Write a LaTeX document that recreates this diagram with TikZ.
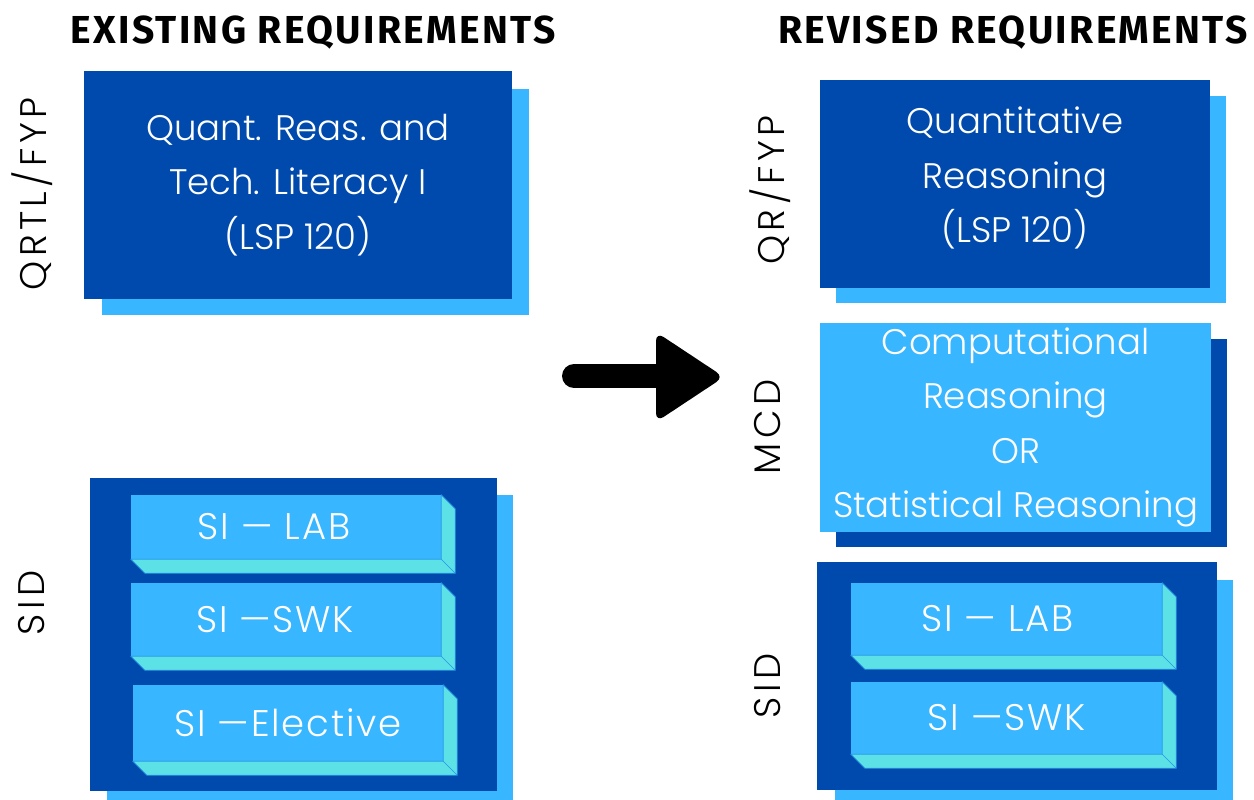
\documentclass[tikz,border=0pt]{standalone}
\usepackage{fontspec}
\setmainfont{Poppins}
\newfontfamily\thinfont{Poppins Light}
\newfontfamily\widefont{Poppins Light}[LetterSpace=12]
\newfontfamily\barfont{Poppins Light}[LetterSpace=5]
\newfontfamily\headfont{Fira Sans}[LetterSpace=6]
\usetikzlibrary{positioning}
\definecolor{navy}{HTML}{004AAD}
\definecolor{sky}{HTML}{38B6FF}
\definecolor{aqua}{HTML}{5CE1E6}
\tikzset{
  head/.style={font=\headfont\bfseries\fontsize{39}{40}\selectfont},
  side/.style={rotate=90, font=\widefont\fontsize{37}{40}\selectfont},
  card/.style={fill=#1, text=white, align=center, inner sep=0pt,
    font=\thinfont\fontsize{35.5}{54.5}\selectfont},
  slab/.style={fill=sky, text=white, inner sep=0pt, minimum width=310,
    font=\barfont\fontsize{37}{40}\selectfont},
}
% bevel under and right of a bar
\newcommand\bevel[1]{%
  \filldraw[aqua, draw=sky!70!navy, line width=.6] (#1.north east) -- ++(14,14)
    -- ([shift={(14,14)}]#1.south east) -- ([shift={(14,14)}]#1.south west)
    -- (#1.south west) -- (#1.south east) -- cycle;
  \draw[sky!70!navy, line width=.4] (#1.south east) -- ++(14,14);
}

\begin{document}
\begin{tikzpicture}[x=1pt, y=-1pt]
\useasboundingbox (0,0) rectangle (1254,800);

% headings
\node[head] (old) at (313,33) {EXISTING REQUIREMENTS};
\node[head] (new) at (1013,33) {REVISED REQUIREMENTS};

% existing side
\fill[sky] (102,89) rectangle (529,315);
\node[card=navy, minimum width=428, minimum height=228] (qrtl) at (298,185)
  {Quant. Reas. and\\Tech. Literacy I\\ (LSP 120)};
\node[side] (qrtllab) at (32,194) {QRTL/FYP};

\fill[sky] (107,495) rectangle (513,810);
\fill[navy] (90,478) rectangle (497,791);
\node[side] (sidlab) at (32,603) {SID};
\node[slab, minimum height=64] (lab) at (286,527) {SI — LAB\hspace*{24pt}};
\bevel{lab}
\node[slab, minimum height=73] (swk) at (286,619.5) {SI —SWK\hspace*{22pt}};
\bevel{swk}
\node[slab, minimum height=76] (elec) at (288,723) {SI —Elective};
\bevel{elec}

% arrow
\coordinate (tail) at (574,376);
\coordinate (tip) at (724,377);
\draw[line width=24, line cap=round] (tail) -- (668,376);
\fill[rounded corners=9] (656,332) -- (tip) -- (656,422) -- cycle;

% revised side
\fill[sky] (836,96) rectangle (1226,303);
\fill[navy] (820,80) rectangle (1210,288);
\node[card=navy, fill=none] (qr) at (1015,178)
  {Quantitative\\Reasoning\\ (LSP 120)};
\node[side] (qrlab) at (770,190) {QR/FYP};

\fill[navy] (836,339) rectangle (1227,547);
\node[card=sky, minimum width=391, minimum height=209] (mcd) at (1015.5,427.5)
  {Computational\\Reasoning\\OR\\Statistical Reasoning};
\node[side] (mcdlab) at (768,427) {MCD};

\fill[sky] (835,580) rectangle (1233,810);
\fill[navy] (817,562) rectangle (1217,790);
\node[side] (sidlab2) at (768,686) {SID};
\node[slab, minimum height=72, minimum width=311] (lab2) at (1006.5,619) {SI — LAB\hspace*{18pt}};
\bevel{lab2}
\node[slab, minimum height=72, minimum width=311] (swk2) at (1006.5,718) {SI —SWK};
\bevel{swk2}
\end{tikzpicture}
\end{document}
